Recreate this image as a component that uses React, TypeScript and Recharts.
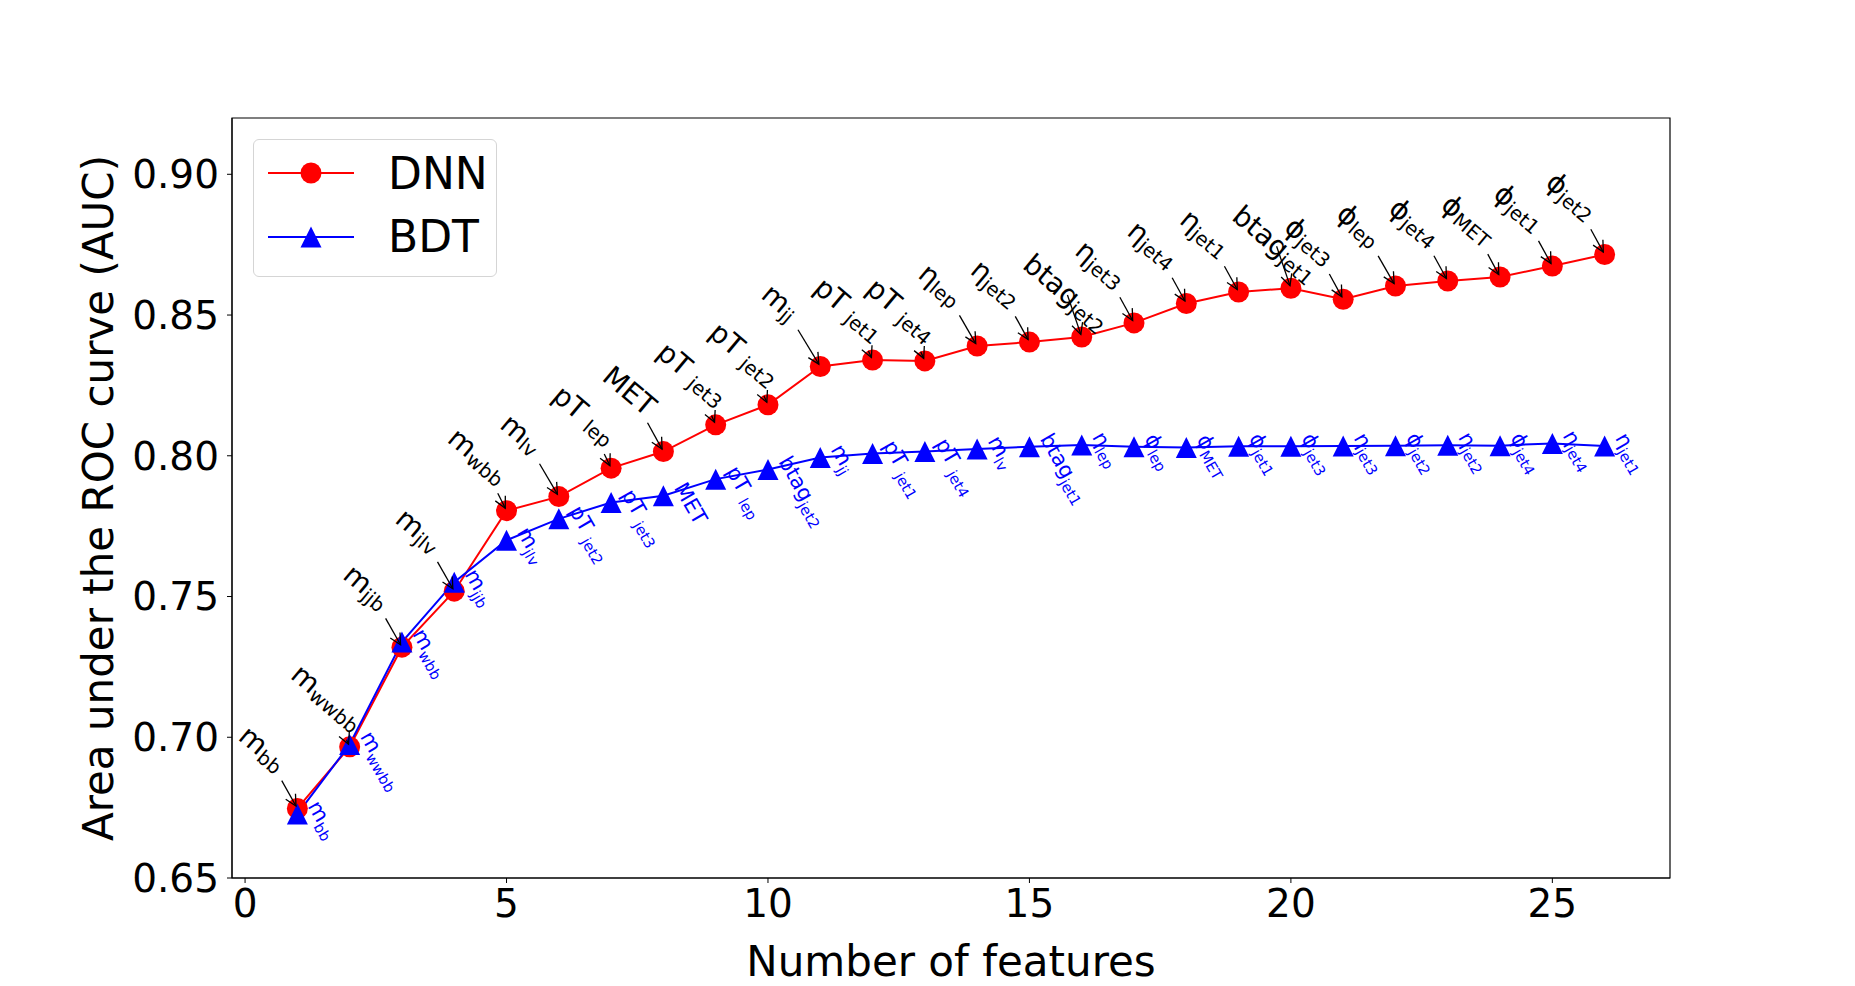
import { LineChart, Line, XAxis, YAxis, ReferenceArea } from 'recharts';

const featureCount = [1, 2, 3, 4, 5, 6, 7, 8, 9, 10, 11, 12, 13, 14, 15, 16, 17, 18, 19, 20, 21, 22, 23, 24, 25, 26];

const dnnAuc = [
  0.6747, 0.6966, 0.732, 0.7519, 0.7805, 0.7855, 0.7956, 0.8015, 0.811, 0.8181, 0.8317, 0.834, 0.8337,
  0.839, 0.8404, 0.8422, 0.8472, 0.8541, 0.8582, 0.8595, 0.8556, 0.8603, 0.8621, 0.8635, 0.8674, 0.8715,
];

const bdtAuc = [
  0.6727, 0.6974, 0.7338, 0.7551, 0.77, 0.7776, 0.7834, 0.7858, 0.7917, 0.7951, 0.7994, 0.8008, 0.8015,
  0.8024, 0.8032, 0.8038, 0.8032, 0.8029, 0.8034, 0.8034, 0.8035, 0.8036, 0.8037, 0.8036, 0.8044, 0.8035,
];

// feature added at each step, "main_sub"
const dnnFeature = [
  'm_bb', 'm_wwbb', 'm_jjb', 'm_jlv', 'm_wbb', 'm_lv', 'pT_lep', 'MET', 'pT_jet3', 'pT_jet2', 'm_jj', 'pT_jet1',
  'pT_jet4', 'η_lep', 'η_jet2', 'btag_jet2', 'η_jet3', 'η_jet4', 'η_jet1', 'btag_jet1', 'ϕ_jet3', 'ϕ_lep',
  'ϕ_jet4', 'ϕ_MET', 'ϕ_jet1', 'ϕ_jet2',
];

const bdtFeature = [
  'm_bb', 'm_wwbb', 'm_wbb', 'm_jjb', 'm_jlv', 'pT_jet2', 'pT_jet3', 'MET', 'pT_lep', 'btag_jet2', 'm_jj',
  'pT_jet1', 'pT_jet4', 'm_lv', 'btag_jet1', 'η_lep', 'ϕ_lep', 'ϕ_MET', 'ϕ_jet1', 'ϕ_jet3', 'η_jet3', 'ϕ_jet2',
  'η_jet2', 'ϕ_jet4', 'η_jet4', 'η_jet1',
];

const xTicks = [0, 5, 10, 15, 20, 25];
const yTicks = [0.65, 0.7, 0.75, 0.8, 0.85, 0.9];

const data = featureCount.map((n, i) => ({
  n,
  dnn: dnnAuc[i],
  bdt: bdtAuc[i],
  dnnLabel: dnnFeature[i],
  bdtLabel: bdtFeature[i],
}));

const FONT = '"DejaVu Sans", sans-serif';
const RED = '#ff0000';
const BLUE = '#0000ff';

const ctx = typeof document !== 'undefined' ? document.createElement('canvas').getContext('2d') : null;
const textWidth = (s: string, size: number) => {
  if (!ctx) return s.length * size * 0.6;
  ctx.font = `${size}px "DejaVu Sans"`;
  return ctx.measureText(s).width;
};

const FeatureText = ({ label, size }: { label: string; size: number }) => {
  const [main, sub] = label.split('_');
  const gap = main === 'pT' ? size * 0.3 : 0;
  return (
    <>
      <tspan>{main}</tspan>
      {sub && (
        <tspan dx={gap} dy={size * 0.25} fontSize={size * 0.7}>
          {sub}
        </tspan>
      )}
    </>
  );
};

const renderCircle = (p: any) => (
  <circle key={`c-${p.index}`} cx={p.cx} cy={p.cy} r={10.5} fill={RED} />
);

const Triangle = ({ cx, cy, s = 10.5, fill = BLUE }: { cx: number; cy: number; s?: number; fill?: string }) => (
  <polygon points={`${cx},${cy - s} ${cx - s},${cy + s} ${cx + s},${cy + s}`} fill={fill} />
);

const renderTriangle = (p: any) => (
  <g key={`t-${p.index}`}>
    <Triangle cx={p.cx} cy={p.cy} />
    <text
      x={p.cx + 10}
      y={p.cy - 8}
      transform={`rotate(60 ${p.cx + 10} ${p.cy - 8})`}
      fontSize={21}
      fill={BLUE}
      fontFamily={FONT}
    >
      <FeatureText label={p.payload.bdtLabel} size={21} />
    </text>
  </g>
);

// black annotation, top-left of its rotated box at a fixed offset, arrow from the box centre
const renderDnnNote = (p: any) => {
  const { cx, cy, payload, index } = p;
  const label: string = payload.dnnLabel;
  const fs = 28;
  const [main, sub] = label.split('_');
  const gap = main === 'pT' ? fs * 0.3 : 0;
  const len = textWidth(main, fs) + (sub ? textWidth(sub, fs * 0.7) + gap : 0);
  const ht = fs * (sub ? 1.0 : 0.75);
  const th = (40 * Math.PI) / 180;
  const w = len * Math.cos(th) + ht * Math.sin(th);
  const h = len * Math.sin(th) + ht * Math.cos(th);
  const tx = cx - 63 + w / 2;
  const ty = cy - 88 + h / 2;
  const dx = cx - tx;
  const dy = cy - ty;
  const d = Math.hypot(dx, dy);
  const ux = dx / d;
  const uy = dy / d;
  const tExit = Math.min((w / 2 + 2.8) / Math.abs(ux), (h / 2 + 2.8) / Math.abs(uy)) + 2.8;
  const tEnd = d - 2.8;
  const t0 = tExit < tEnd - 4 ? tExit : 2.8;
  const sx = tx + ux * t0;
  const sy = ty + uy * t0;
  const ex = tx + ux * tEnd;
  const ey = ty + uy * tEnd;
  const bx = ex - ux * 11;
  const by = ey - uy * 11;
  const px = -uy * 5.6;
  const py = ux * 5.6;
  return (
    <g key={`n-${index}`}>
      <line x1={sx} y1={sy} x2={ex} y2={ey} stroke="#000" strokeWidth={1.3} />
      <polyline
        points={`${bx + px},${by + py} ${ex},${ey} ${bx - px},${by - py}`}
        fill="none"
        stroke="#000"
        strokeWidth={1.3}
      />
      <text
        x={tx}
        y={ty}
        transform={`rotate(40 ${tx} ${ty})`}
        textAnchor="middle"
        dominantBaseline="central"
        fontSize={fs}
        fill="#000"
        fontFamily={FONT}
      >
        <FeatureText label={label} size={fs} />
      </text>
    </g>
  );
};

const Legend = () => (
  <div
    style={{
      position: 'absolute',
      left: 253,
      top: 139,
      width: 244,
      height: 138,
      boxSizing: 'border-box',
      border: '1.5px solid #d5d5d5',
      borderRadius: 6,
      background: 'rgba(255,255,255,0.8)',
    }}
  >
    <svg width={244} height={138} style={{ position: 'absolute', left: -1.5, top: -1.5 }}>
      <line x1={15} x2={101} y1={34} y2={34} stroke={RED} strokeWidth={2} />
      <circle cx={58} cy={34} r={10.5} fill={RED} />
      <text x={135} y={50} fontSize={44} fontFamily={FONT} fill="#000">
        DNN
      </text>
      <line x1={15} x2={101} y1={98} y2={98} stroke={BLUE} strokeWidth={2} />
      <Triangle cx={58} cy={98} />
      <text x={135} y={113} fontSize={44} fontFamily={FONT} fill="#000">
        BDT
      </text>
    </svg>
  </div>
);

const App = () => (
  <div
    style={{
      position: 'absolute',
      left: 0,
      top: 0,
      width: 1855,
      height: 986,
      background: '#fff',
      fontFamily: FONT,
      overflow: 'hidden',
    }}
  >
    <LineChart width={1855} height={986} data={data} margin={{ top: 118, right: 185, left: 0, bottom: 0 }}>
      <XAxis
        type="number"
        dataKey="n"
        domain={[-0.25, 27.25]}
        ticks={xTicks}
        interval={0}
        height={108}
        tickSize={5}
        tickMargin={6}
        stroke="#000"
        tick={{ fontSize: 39, fill: '#000' }}
        label={{ value: 'Number of features', position: 'insideBottom', offset: 10, style: { fontSize: 42, fill: '#000' } }}
      />
      <YAxis
        type="number"
        domain={[0.65, 0.92]}
        ticks={yTicks}
        interval={0}
        width={232}
        tickSize={5}
        tickMargin={8}
        stroke="#000"
        tickFormatter={(v: number) => v.toFixed(2)}
        tick={{ fontSize: 39, fill: '#000' }}
        label={{
          value: 'Area under the ROC curve (AUC)',
          angle: -90,
          position: 'center',
          dx: -18,
          style: { fontSize: 42, fill: '#000', textAnchor: 'middle' },
        }}
      />
      <ReferenceArea x1={-0.25} x2={27.25} y1={0.65} y2={0.92} fill="none" stroke="#000" strokeWidth={1.2} ifOverflow="visible" />
      <Line
        type="linear"
        dataKey="dnn"
        stroke={RED}
        strokeWidth={2}
        dot={renderCircle}
        activeDot={false}
        isAnimationActive={false}
      />
      <Line
        type="linear"
        dataKey="bdt"
        stroke={BLUE}
        strokeWidth={2}
        dot={renderTriangle}
        activeDot={false}
        isAnimationActive={false}
      />
      <Line
        type="linear"
        dataKey="dnn"
        name="notes"
        stroke="none"
        dot={renderDnnNote}
        activeDot={false}
        legendType="none"
        isAnimationActive={false}
      />
    </LineChart>
    <Legend />
  </div>
);

export default App;
